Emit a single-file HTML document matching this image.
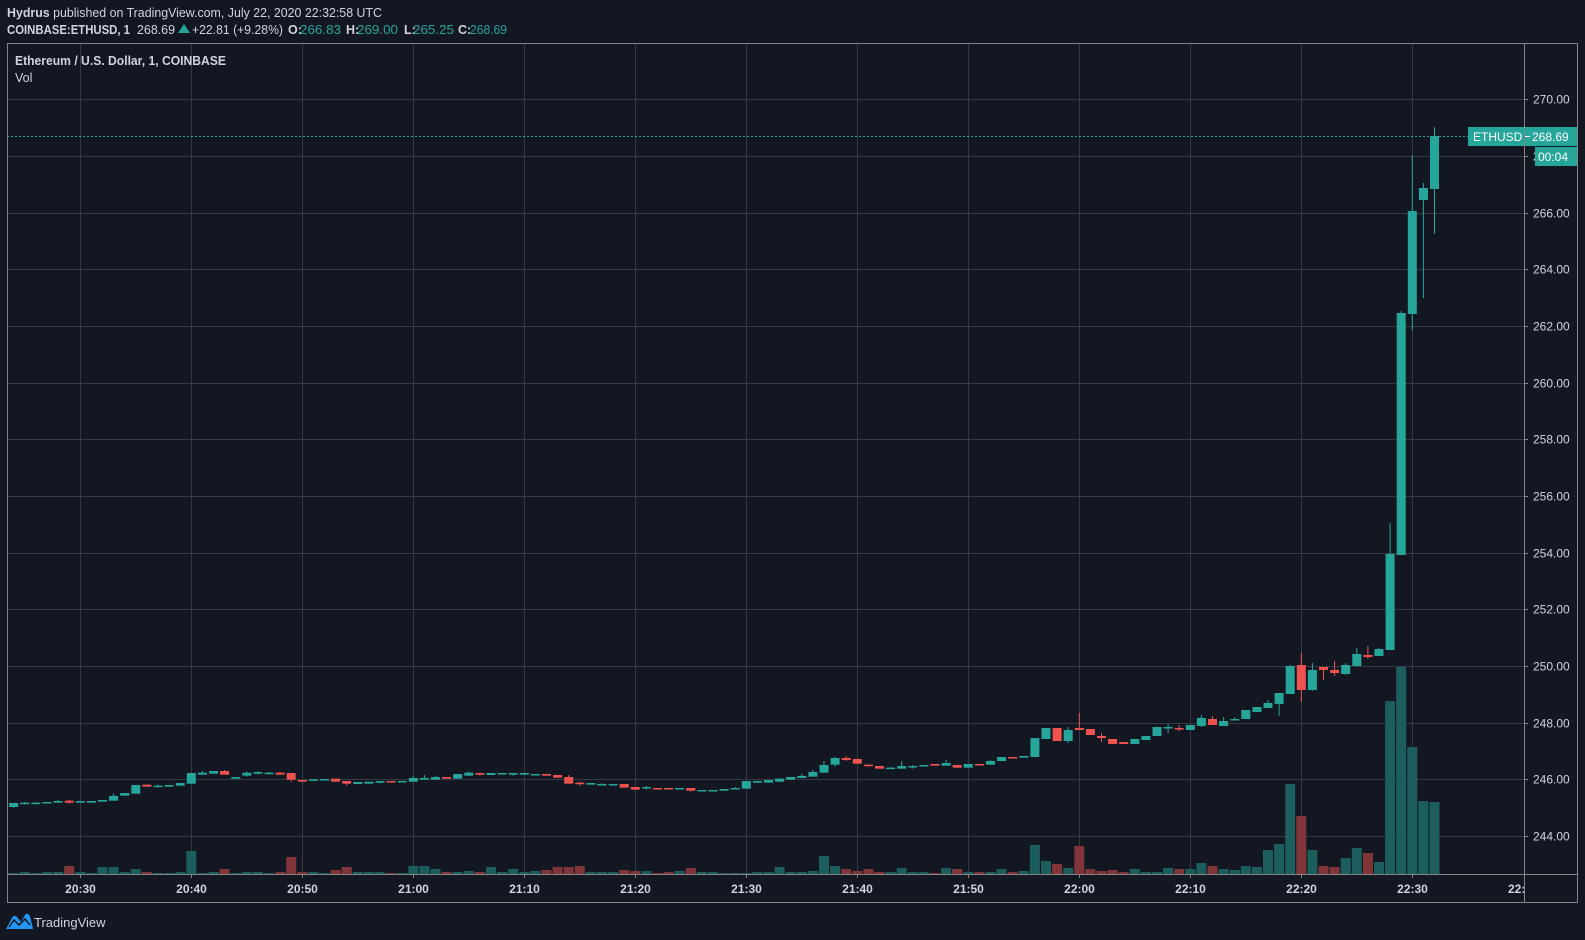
<!DOCTYPE html>
<html><head><meta charset="utf-8"><style>
html,body{margin:0;padding:0;background:#131722;}
svg{display:block;font-family:"Liberation Sans",sans-serif;}
</style></head><body>
<svg id="s" width="1585" height="940" viewBox="0 0 1585 940" xmlns="http://www.w3.org/2000/svg">
<rect width="1585" height="940" fill="#131722"/>
<g font-size="12.5" fill="#d1d4dc">
<text x="7" y="17" textLength="375" lengthAdjust="spacingAndGlyphs"><tspan font-weight="bold">Hydrus</tspan> published on TradingView.com, July 22, 2020 22:32:58 UTC</text>
<text x="7" y="34" font-weight="bold" textLength="123" lengthAdjust="spacingAndGlyphs">COINBASE:ETHUSD, 1</text>
<text x="137" y="34" textLength="38" lengthAdjust="spacingAndGlyphs">268.69</text>
<polygon points="178,33 184,24 190,33" fill="#26a69a"/>
<text x="192" y="34" textLength="91" lengthAdjust="spacingAndGlyphs">+22.81 (+9.28%)</text>
<text x="288" y="34" font-weight="bold">O:</text><text x="300" y="34" fill="#26a69a" textLength="41" lengthAdjust="spacingAndGlyphs">266.83</text>
<text x="346" y="34" font-weight="bold">H:</text><text x="357" y="34" fill="#26a69a" textLength="41" lengthAdjust="spacingAndGlyphs">269.00</text>
<text x="404" y="34" font-weight="bold">L:</text><text x="413" y="34" fill="#26a69a" textLength="41" lengthAdjust="spacingAndGlyphs">265.25</text>
<text x="458" y="34" font-weight="bold">C:</text><text x="470" y="34" fill="#26a69a" textLength="37" lengthAdjust="spacingAndGlyphs">268.69</text>
</g>
<g id="grid" stroke="#363a45" stroke-width="1"></g>
<g id="ch"></g>
<g font-size="12" fill="#d1d4dc" id="plab"></g>
<line x1="7" y1="136.5" x2="1524" y2="136.5" stroke="#26a69a" stroke-dasharray="2,2"/>
<rect x="1468" y="127" width="56" height="19" fill="#26a69a"/>
<rect x="1525" y="127" width="52" height="19" fill="#26a69a"/>
<text x="1473" y="141" font-size="12" fill="#fff">ETHUSD</text>
<line x1="1524" y1="136.5" x2="1530" y2="136.5" stroke="#fff"/>
<text x="1532" y="141" font-size="12" fill="#fff">268.69</text>
<rect x="1535" y="147" width="42" height="19" fill="#26a69a"/>
<text x="1538" y="161" font-size="12" fill="#fff">00:04</text>
<g font-size="12" fill="#d1d4dc" font-weight="bold" id="tlab"></g>
<rect x="7.5" y="43.5" width="1570" height="859" fill="none" stroke="#858585"/>
<line x1="7" y1="874.5" x2="1577" y2="874.5" stroke="#858585"/>
<line x1="1524.5" y1="43" x2="1524.5" y2="903" stroke="#858585"/>
<text x="15" y="65" font-size="12.5" fill="#d1d4dc" font-weight="bold" textLength="211" lengthAdjust="spacingAndGlyphs">Ethereum / U.S. Dollar, 1, COINBASE</text>
<text x="15" y="82" font-size="12.5" fill="#d1d4dc">Vol</text>
<path d="M6 929 L12 918 Q14 914 17 917 L21 922 L25 915 Q27 912 30 916 L33 929 Z" fill="#2196f3"/>
<path d="M9 927 L14 920 L19 925 L25 919 L30 925" stroke="#131722" stroke-width="1.5" fill="none"/>
<text x="34" y="927" font-size="13" fill="#d1d4dc">TradingView</text>
</svg>
<script>
(function(){
var NS="http://www.w3.org/2000/svg";
function el(p,t,a){var e=document.createElementNS(NS,t);for(var k in a)e.setAttribute(k,a[k]);p.appendChild(e);return e;}
var grid=document.getElementById('grid'),ch=document.getElementById('ch'),pl=document.getElementById('plab'),tl=document.getElementById('tlab');
function py(p){return 99.3+(270-p)*28.33;}
for(var p=244;p<=270;p+=2){var y=Math.round(py(p))+0.5;el(grid,'line',{x1:7,y1:y,x2:1524,y2:y});
 var t=el(pl,'text',{x:1533,y:y+4});t.textContent=p.toFixed(2);el(pl,'line',{x1:1524,y1:y,x2:1528,y2:y,stroke:'#858585'});}
function X(m){return 80.3+11.1*m;}
var labs=["20:30","20:40","20:50","21:00","21:10","21:20","21:30","21:40","21:50","22:00","22:10","22:20","22:30"];
for(var k=0;k<13;k++){var x=Math.round(X(k*10))+0.5;el(grid,'line',{x1:x,y1:43,x2:x,y2:874});
 el(tl,'line',{x1:x,y1:874,x2:x,y2:878,stroke:'#858585'});
 var t=el(tl,'text',{x:x,y:893,'text-anchor':'middle'});t.textContent=labs[k];}
var t=el(tl,'text',{x:1508,y:893});t.textContent="22:";
el(tl,'rect',{x:1524,y:878,width:53,height:24,fill:'#131722'});
var A=[[1,189,201,189,203],[1,188,191,186,193],[1,188,191,186,193],[1,186,190],[1,183,188,180],[0,182,188,180,191],[1,183,188],[1,183,188],[1,180,185],[1,168,182,160],[1,159,167],[1,135,161],[0,134,140],[1,137,140,134,142],[1,135,140],[1,129,137],[1,99,131],[1,98,104,93],[1,93,101],[0,93,104,90],[1,111,116],[1,98,107,95,110],[1,96,101,94,104],[1,98,101,96,103],[0,98,104,96],[0,99,119,99,125],[0,120,125],[1,118,122],[1,117,119],[0,116,125],[0,123,131,123,137],[1,126,132],[1,125,131],[1,123,128,123,131],[0,123,125],[1,123,125],[1,114,125,108],[1,114,119,105],[1,111,119,108],[0,111,116],[1,102,116],[1,98,107,95],[0,99,104,99,107]];
var VA=[399,396,399,396,396,378,396,399,381,381,396,387,396,399,399,396,333,399,396,387,399,396,396,399,396,351,396,396,399,390,381,396,396,396,399,399,378,378,387,396,396,393,396];
var B=[[1,129,135],[1,129,132,129,134],[1,129,134,129,137],[1,129,134],[1,132,134],[0,132,137],[0,135,143],[0,141,161,135],[0,158,161,155,167],[1,159,164],[1,162,164,159],[1,162,164],[0,162,173],[0,171,179],[1,171,174,168,179],[0,174,176],[0,174,176],[1,174,176],[0,174,182,174,185],[1,180,182],[1,180,182],[1,177,182],[1,174,176,171],[1,153,176],[1,153,158],[1,150,158],[1,146,155,144],[1,141,149],[1,138,144,132],[1,126,140,120],[1,105,128,93],[1,84,104,81,110],[0,84,90,78,93],[0,87,101],[0,104,107,104,110],[0,108,116],[1,113,116,111],[1,108,116,93],[1,108,111,105,116],[1,105,107],[0,102,107],[1,99,107,90],[0,105,113],[1,102,113],[0,102,104],[1,93,104,90]];
var VB=[411,426,417,426,423,420,411,411,408,426,426,426,420,423,423,429,426,423,414,426,426,429,429,429,426,426,411,426,426,423,378,408,417,423,417,426,426,414,426,426,429,414,417,426,426,426];
var C=[[1,411,423],[0,411,413],[1,408,413],[1,354,411],[1,324,357],[0,324,363],[1,330,363,321,369],[0,324,330,279],[0,327,345],[0,348,354,339,366],[0,357,372],[0,366,372],[1,357,372],[1,348,360],[1,321,348],[1,321,324,312,339],[0,324,327,315,333],[1,315,330],[1,294,318,285,321],[0,297,315,288],[1,303,318,291],[1,297,300,291],[1,270,297],[1,261,276],[1,249,264,240],[1,219,252,219,288],[1,138,222,135],[0,135,210,99,246],[1,150,210,129,213],[0,141,150,141,180],[0,150,159,123,168],[1,135,162,129,165],[1,102,138,84],[0,105,111,78,117],[1,87,108,84]];
var VC=[747,756,753,675,723,732,744,678,747,753,750,756,747,756,756,744,747,747,729,738,747,750,738,741,690,672,492,588,690,738,741,714,684,699,726];
var cs=[];
function add(arr,vol,m0,off){for(var i=0;i<arr.length;i++){var d=arr[i];cs.push({m:m0+i,g:d[0],t:off+d[1]/3,b:off+d[2]/3,wt:off+(d[3]!==undefined?d[3]:d[1])/3,wb:off+(d[4]!==undefined?d[4]:d[2])/3,v:off+vol[i]/3});}}
add(A,VA,-6,740);add(B,VB,37,730);add(C,VC,83,620);
cs.push({m:118,g:1,t:554,b:650,wt:523,wb:650,v:620+243/3});
cs.push({m:119,g:1,t:313,b:555,wt:311,wb:555,v:620+141/3});
cs.push({m:120,g:1,t:211,b:314,wt:155,wb:330,v:620+381/3});
cs.push({m:121,g:1,t:188,b:200,wt:183,wb:298,v:620+543/3});
cs.push({m:122,g:1,t:136,b:189,wt:127,wb:234,v:620+546/3});
cs.forEach(function(c){var x=X(c.m);
 el(ch,'rect',{x:x-5,y:c.v,width:10,height:874-c.v,fill:c.g?'#1c5e5e':'#813539'});});
cs.forEach(function(c){var x=X(c.m),col=c.g?'#26a69a':'#ef5350';
 el(ch,'rect',{x:x-0.5,y:c.wt,width:1,height:Math.max(1,c.wb-c.wt),fill:col});
 el(ch,'rect',{x:x-4.5,y:c.t,width:9,height:Math.max(1.5,c.b-c.t),fill:col});});
})();
</script>
</body></html>
